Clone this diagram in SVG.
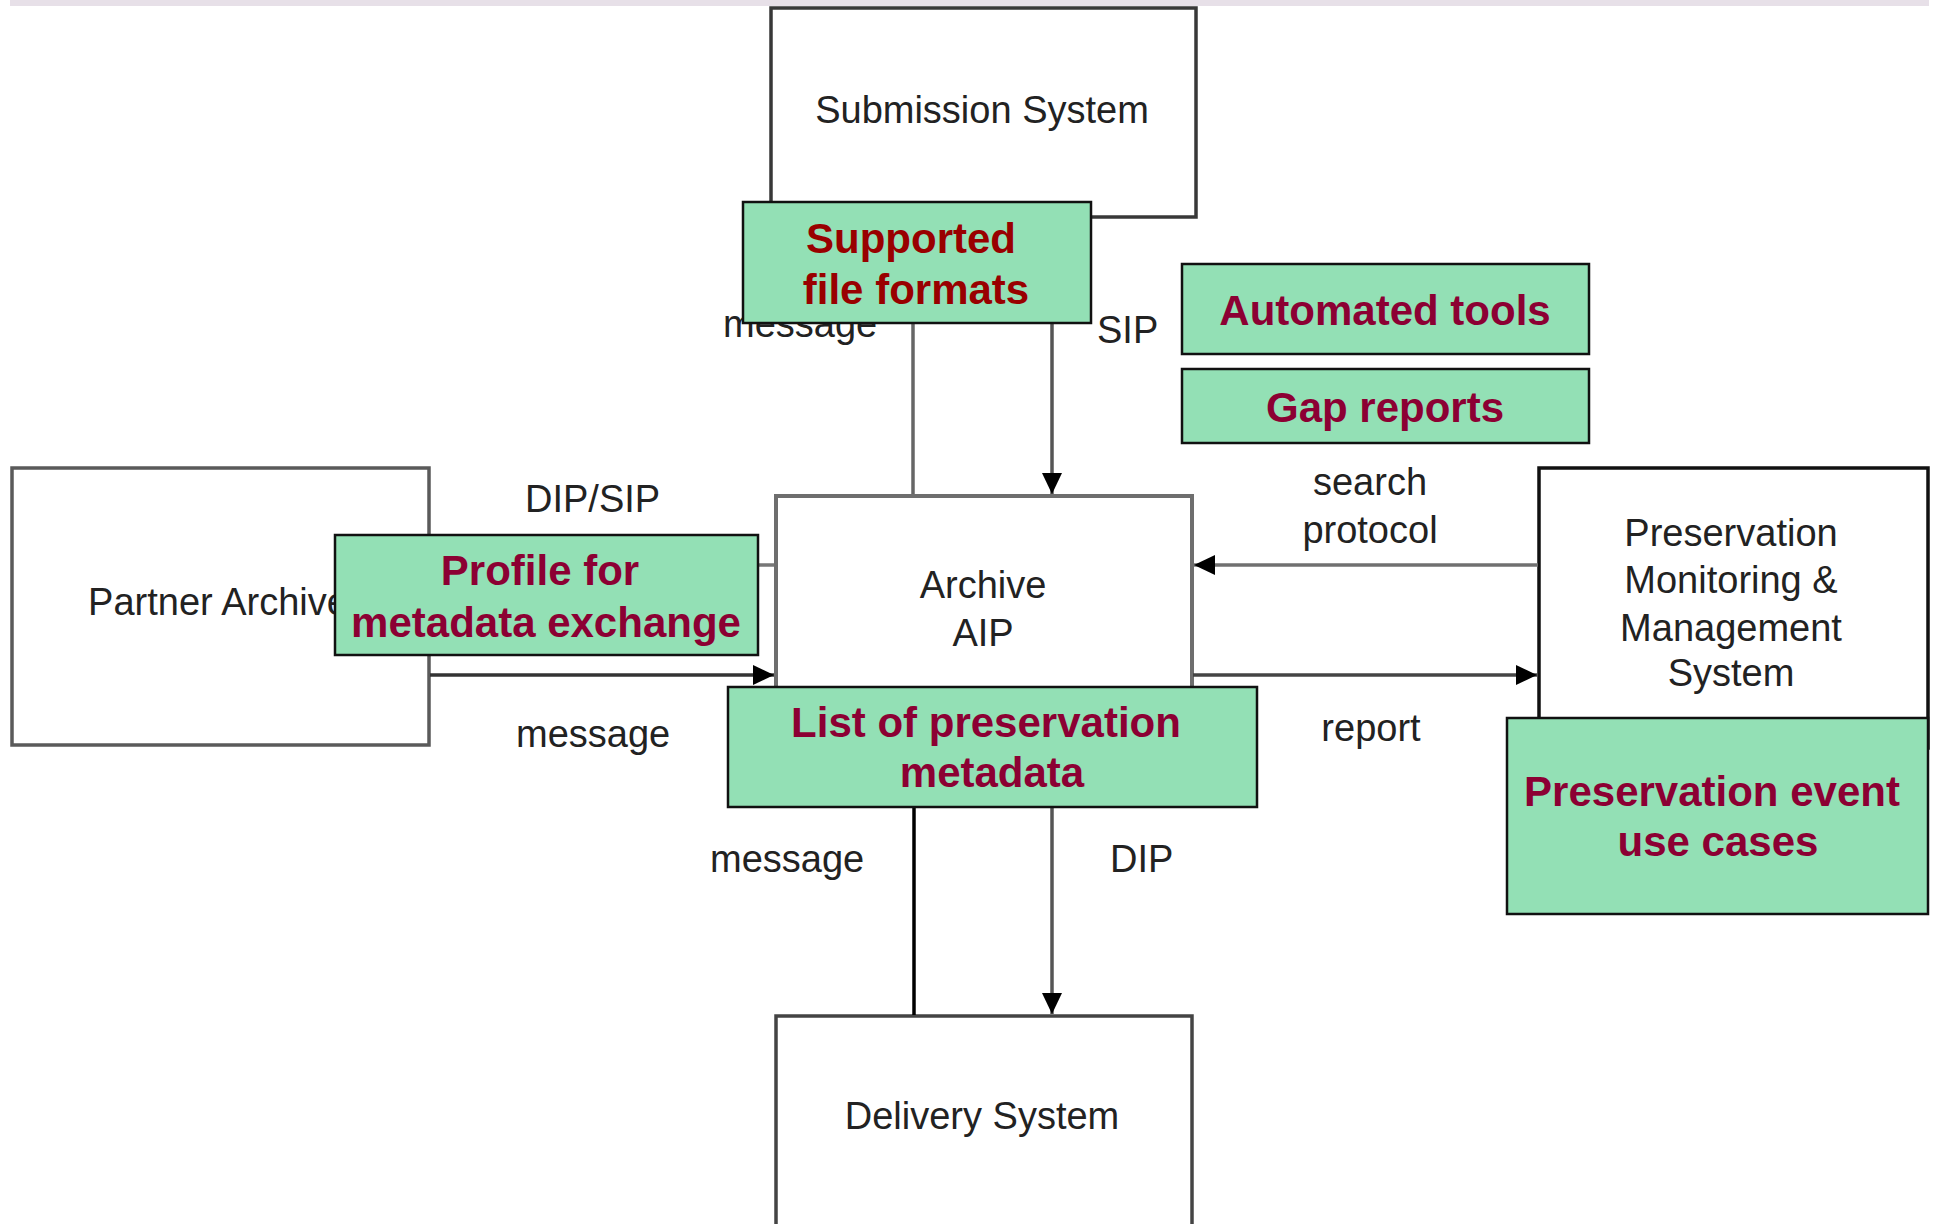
<svg xmlns="http://www.w3.org/2000/svg" width="1939" height="1224" viewBox="0 0 1939 1224">
<style>
.node{fill:#ffffff}
.lbl{font-family:"Liberation Sans",Arial,sans-serif;font-size:38px;fill:#222222}
.ann rect{fill:#93e0b5;stroke:#111111;stroke-width:2.5}
.ann text{font-family:"Liberation Sans",Arial,sans-serif;font-size:42px;font-weight:bold;fill:#8c0033;text-anchor:middle}
.mid{text-anchor:middle}
.conn{fill:none;stroke-width:3.5}
</style>
<defs>
<marker id="ah" markerUnits="userSpaceOnUse" markerWidth="24" markerHeight="24" refX="21" refY="10" orient="auto">
<path d="M0,0 L21,10 L0,20 z" fill="#000000"/>
</marker>
</defs>
<rect x="10" y="0" width="1919" height="6" fill="#e7e0e8"/>

<g id="submission-system">
<rect class="node" x="771" y="8" width="425" height="209" stroke="#383838" stroke-width="3.5"/>
<text class="lbl mid" x="982" y="123">Submission System</text>
</g>
<g id="partner-archive">
<rect class="node" x="12" y="468" width="417" height="277" stroke="#5a5a5a" stroke-width="3.5"/>
<text class="lbl mid" x="218" y="615">Partner Archive</text>
</g>
<g id="archive-aip">
<rect class="node" x="776" y="496" width="416" height="250" stroke="#6e6e6e" stroke-width="4"/>
<text class="lbl mid" x="983" y="598">Archive</text>
<text class="lbl mid" x="983" y="646">AIP</text>
</g>
<g id="preservation-monitoring">
<rect class="node" x="1539" y="468" width="389" height="280" stroke="#111111" stroke-width="3.5"/>
<text class="lbl mid" x="1731" y="546">Preservation</text>
<text class="lbl mid" x="1731" y="593">Monitoring &amp;</text>
<text class="lbl mid" x="1731" y="641">Management</text>
<text class="lbl mid" x="1731" y="686">System</text>
</g>
<g id="delivery-system">
<rect class="node" x="776" y="1016" width="416" height="210" stroke="#444444" stroke-width="3.5"/>
<text class="lbl mid" x="982" y="1129">Delivery System</text>
</g>

<g id="connectors">
<line class="conn" x1="913" y1="323" x2="913" y2="494" stroke="#666666"/>
<line class="conn" x1="1052" y1="323" x2="1052" y2="494" stroke="#555555" marker-end="url(#ah)"/>
<line class="conn" x1="1538" y1="565" x2="1194" y2="565" stroke="#707070" stroke-width="4.5" marker-end="url(#ah)"/>
<line class="conn" x1="1193" y1="675" x2="1537" y2="675" stroke="#444444" marker-end="url(#ah)"/>
<line class="conn" x1="430" y1="565" x2="774" y2="565" stroke="#777777" stroke-width="4.5"/>
<line class="conn" x1="430" y1="675" x2="774" y2="675" stroke="#333333" marker-end="url(#ah)"/>
<line class="conn" x1="914" y1="807" x2="914" y2="1015" stroke="#000000"/>
<line class="conn" x1="1052" y1="807" x2="1052" y2="1014" stroke="#555555" marker-end="url(#ah)"/>
</g>

<g id="labels">
<text class="lbl" x="723" y="337">message</text>
<text class="lbl" x="1097" y="343">SIP</text>
<text class="lbl" x="525" y="512">DIP/SIP</text>
<text class="lbl" x="516" y="747">message</text>
<text class="lbl mid" x="1370" y="495">search</text>
<text class="lbl mid" x="1370" y="543">protocol</text>
<text class="lbl mid" x="1371" y="741">report</text>
<text class="lbl" x="710" y="872">message</text>
<text class="lbl" x="1110" y="872">DIP</text>
</g>

<g id="supported-file-formats" class="ann">
<rect x="743" y="202" width="348" height="121"/>
<text x="911" y="253" style="fill:#990000">Supported</text>
<text x="916" y="304" style="fill:#990000">file formats</text>
</g>
<g id="automated-tools" class="ann">
<rect x="1182" y="264" width="407" height="90"/>
<text x="1385" y="325">Automated tools</text>
</g>
<g id="gap-reports" class="ann">
<rect x="1182" y="369" width="407" height="74"/>
<text x="1385" y="422">Gap reports</text>
</g>
<g id="profile-metadata-exchange" class="ann">
<rect x="335" y="535" width="423" height="120"/>
<text x="540" y="585">Profile for</text>
<text x="546" y="637">metadata exchange</text>
</g>
<g id="list-preservation-metadata" class="ann">
<rect x="728" y="687" width="529" height="120"/>
<text x="986" y="737">List of preservation</text>
<text x="992" y="787">metadata</text>
</g>
<g id="preservation-event-use-cases" class="ann">
<rect x="1507" y="718" width="421" height="196"/>
<text x="1712" y="806">Preservation event</text>
<text x="1718" y="856">use cases</text>
</g>
</svg>
